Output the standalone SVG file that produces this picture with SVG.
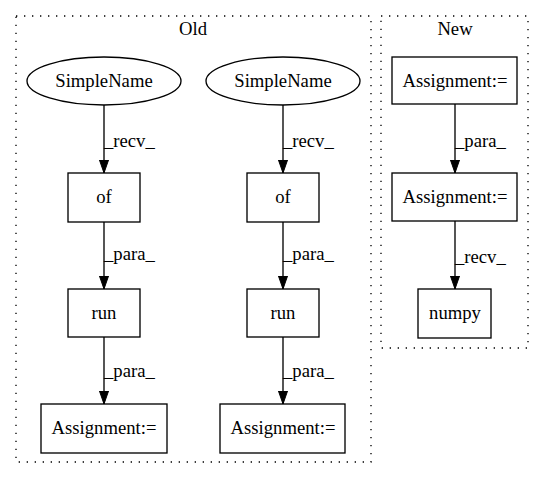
<svg xmlns="http://www.w3.org/2000/svg" width="544" height="480" viewBox="0 0 544 480">
<style>
.n{text-anchor:middle}
.cl{fill:none;stroke:#000;stroke-width:1.33;stroke-dasharray:1.33,6.67}
.nd{fill:#fff;stroke:#000;stroke-width:1.33}
.e{fill:none;stroke:#000;stroke-width:1.33}
</style>
<defs>
<marker id="a" viewBox="0 0 13.33 9.33" refX="13.33" refY="4.67" markerWidth="13.33" markerHeight="9.33" markerUnits="userSpaceOnUse" orient="auto">
<path d="M0,0 L13.33,4.67 L0,9.33 Z" fill="#000" stroke="#000" stroke-width="1"/>
</marker>
</defs>
<rect width="544" height="480" fill="#fff"/>
<g font-family="Liberation Serif, serif" font-size="18.67px" fill="#000">
<g id="cluster_old">
<rect class="cl" x="16" y="16" width="355" height="446"/>
<text class="n" x="193" y="35">Old</text>
</g>
<g id="cluster_new">
<rect class="cl" x="381" y="16" width="147" height="332"/>
<text class="n" x="455" y="35">New</text>
</g>
<g id="edges">
<path class="e" d="M104,105 V173" marker-end="url(#a)"/>
<text x="104" y="147">_recv_</text>
<path class="e" d="M104,222 V289" marker-end="url(#a)"/>
<text x="104" y="260">_para_</text>
<path class="e" d="M104,337 V404" marker-end="url(#a)"/>
<text x="104" y="377">_para_</text>
<path class="e" d="M283,105 V173" marker-end="url(#a)"/>
<text x="283" y="147">_recv_</text>
<path class="e" d="M283,222 V289" marker-end="url(#a)"/>
<text x="283" y="260">_para_</text>
<path class="e" d="M283,337 V404" marker-end="url(#a)"/>
<text x="283" y="377">_para_</text>
<path class="e" d="M455,104 V173" marker-end="url(#a)"/>
<text x="455" y="147">_para_</text>
<path class="e" d="M455,221 V289" marker-end="url(#a)"/>
<text x="455" y="263">_recv_</text>
</g>
<g id="sn1">
<ellipse class="nd" cx="104" cy="81" rx="77" ry="24"/>
<text class="n" x="104" y="87">SimpleName</text>
</g>
<g id="sn2">
<ellipse class="nd" cx="283" cy="81" rx="77" ry="24"/>
<text class="n" x="283" y="87">SimpleName</text>
</g>
<g id="of1">
<rect class="nd" x="68" y="173" width="72" height="49"/>
<text class="n" x="104" y="203">of</text>
</g>
<g id="of2">
<rect class="nd" x="247" y="173" width="72" height="49"/>
<text class="n" x="283" y="203">of</text>
</g>
<g id="run1">
<rect class="nd" x="68" y="289" width="72" height="48"/>
<text class="n" x="104" y="319">run</text>
</g>
<g id="run2">
<rect class="nd" x="247" y="289" width="72" height="48"/>
<text class="n" x="283" y="319">run</text>
</g>
<g id="asg1">
<rect class="nd" x="41" y="404" width="126" height="49"/>
<text class="n" x="104" y="434">Assignment:=</text>
</g>
<g id="asg2">
<rect class="nd" x="220" y="404" width="125" height="49"/>
<text class="n" x="283" y="434">Assignment:=</text>
</g>
<g id="asg3">
<rect class="nd" x="392" y="57" width="125" height="47"/>
<text class="n" x="455" y="87">Assignment:=</text>
</g>
<g id="asg4">
<rect class="nd" x="392" y="173" width="125" height="48"/>
<text class="n" x="455" y="203">Assignment:=</text>
</g>
<g id="numpy">
<rect class="nd" x="418" y="289" width="73" height="49"/>
<text class="n" x="455" y="319">numpy</text>
</g>
</g>
</svg>
